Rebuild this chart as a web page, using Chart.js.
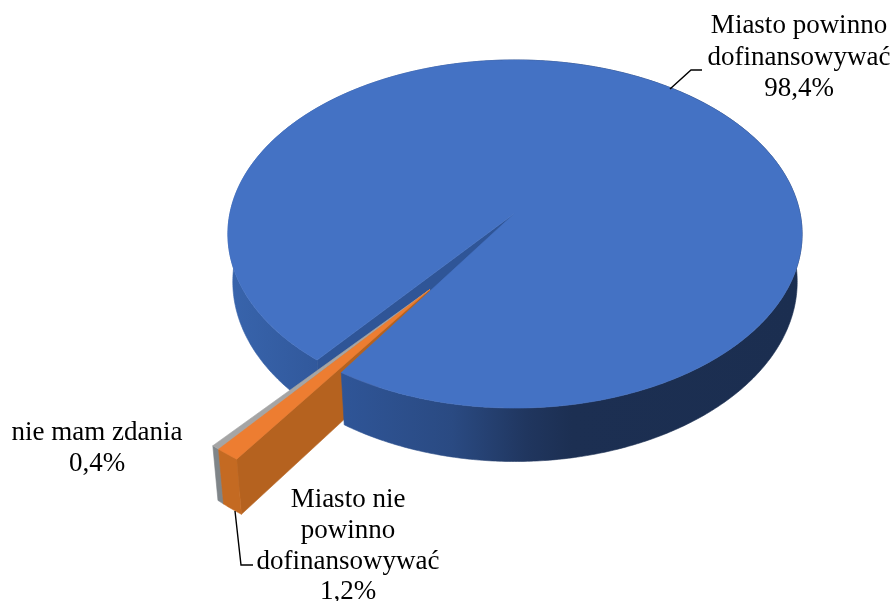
<!DOCTYPE html>
<html lang="pl">
<head>
<meta charset="utf-8">
<title>Wykres</title>
<style>html,body{margin:0;padding:0;background:#fff}canvas{display:block}</style>
<script src="https://cdn.jsdelivr.net/npm/chart.js@4/dist/chart.umd.min.js"></script>
</head>
<body>
<canvas id="c" width="891" height="601"></canvas>
<script>
const categories = ['Miasto powinno dofinansowywać', 'Miasto nie powinno dofinansowywać', 'nie mam zdania'];
const shares = [98.4, 1.2, 0.4];
const valueLabels = ['98,4%', '1,2%', '0,4%'];

const topColors = ['#4472c4', '#ed7d31', '#a5a5a5'];
const sideColors = ['#2f5597', '#b5621f', '#7f8589'];

const labelBlocks = [
  {lines: ['Miasto powinno', 'dofinansowywać', valueLabels[0]], x: 799, y: [33, 65, 96]},
  {lines: ['Miasto nie', 'powinno', 'dofinansowywać', valueLabels[1]], x: 348, y: [507, 538, 569, 599]},
  {lines: [categories[2], valueLabels[2]], x: 97, y: [440, 471]}
];
const leaders = [
  [[670, 89], [691, 70], [702, 70]],
  [[235, 511], [241, 565], [253, 565]]
];

const pie3d = {
  id: 'pie3d',
  beforeDatasetsDraw(chart, args, o) {
    const ctx = chart.ctx;
    const arcs = chart.getDatasetMeta(0).data;
    const cx = arcs[0].x, cy = arcs[0].y, R = arcs[0].outerRadius;
    const P = (u, v, low) => {
      const den = 1 + o.persp * v;
      let X = cx + R * u / den, Y = cy + R * o.tilt * v / den;
      if (low) { X = cx + (X - cx) * o.lowScale; Y += o.depth / den; }
      return [X, Y];
    };
    const rim = (a, c, low) => P(c.x + c.s * Math.cos(a), c.y + c.s * Math.sin(a), low);
    const range = (a0, a1) => {
      const out = [], n = Math.max(2, Math.ceil(Math.abs(a1 - a0) / 0.01));
      for (let i = 0; i <= n; i++) out.push(a0 + (a1 - a0) * i / n);
      return out;
    };
    const fillPoly = (pts, fill) => {
      ctx.beginPath();
      pts.forEach((p, i) => i ? ctx.lineTo(p[0], p[1]) : ctx.moveTo(p[0], p[1]));
      ctx.closePath();
      ctx.fillStyle = fill;
      ctx.fill();
      ctx.strokeStyle = fill;
      ctx.lineWidth = 0.6;
      ctx.stroke();
    };
    const wall = (a0, a1, c, fill) => {
      const as = range(a0, a1);
      fillPoly(as.map(a => rim(a, c, false)).concat(as.slice().reverse().map(a => rim(a, c, true))), fill);
    };
    const sideFace = (a, c, ap, fill) => fillPoly([P(ap.x, ap.y, false), rim(a, c, false), rim(a, c, true), P(ap.x, ap.y, true)], fill);
    const top = (a0, a1, c, ap, fill) => fillPoly([P(ap.x, ap.y, false)].concat(range(a0, a1).map(a => rim(a, c, false))), fill);

    const g = ctx.createLinearGradient(cx - R, 0, cx + R, 0);
    o.wallStops.forEach(s => g.addColorStop(s[0], s[1]));

    const blue = arcs[0], orange = arcs[1], grey = arcs[2];
    const span = grey.endAngle - orange.startAngle;
    const at = bias => {
      const phi = orange.startAngle + bias * span;
      return {x: o.explode * Math.cos(phi), y: o.explode * Math.sin(phi), s: o.explodedRim};
    };
    const home = {x: 0, y: 0, s: 1};
    const outer = at(o.rimBias), apex = at(o.apexBias);
    const split = blue.startAngle + 3;

    wall(blue.startAngle, split, home, g);
    sideFace(blue.startAngle, home, home, sideColors[0]);

    wall(grey.startAngle, grey.endAngle, outer, sideColors[2]);
    sideFace(grey.startAngle, outer, apex, sideColors[2]);
    sideFace(orange.startAngle, outer, apex, sideColors[1]);
    wall(orange.startAngle, orange.endAngle, outer, o.orangeWall);

    wall(split, blue.endAngle, home, g);
    top(blue.startAngle, blue.endAngle, home, home, topColors[0]);

    top(grey.startAngle, grey.endAngle, outer, apex, topColors[2]);
    top(orange.startAngle, orange.endAngle, outer, apex, topColors[1]);
    return false;
  },
  afterDraw(chart) {
    const ctx = chart.ctx;
    ctx.save();
    ctx.strokeStyle = '#000';
    ctx.lineWidth = 1.4;
    leaders.forEach(l => {
      ctx.beginPath();
      l.forEach((p, i) => i ? ctx.lineTo(p[0], p[1]) : ctx.moveTo(p[0], p[1]));
      ctx.stroke();
    });
    ctx.fillStyle = '#000';
    ctx.font = '27px "Liberation Serif"';
    ctx.textAlign = 'center';
    ctx.textBaseline = 'alphabetic';
    labelBlocks.forEach(b => b.lines.forEach((t, i) => ctx.fillText(t, b.x, b.y[i])));
    ctx.restore();
  }
};

new Chart(document.getElementById('c'), {
  type: 'pie',
  data: {
    labels: categories,
    datasets: [{data: shares, backgroundColor: topColors, borderWidth: 0, radius: 285}]
  },
  options: {
    responsive: false,
    animation: false,
    rotation: 219,
    layout: {padding: {left: 139, top: 0, right: 0, bottom: 175}},
    plugins: {
      legend: {display: false},
      tooltip: {enabled: false},
      pie3d: {
        tilt: 0.6018,
        persp: -0.1207,
        depth: 47,
        lowScale: 0.983,
        explode: 0.51,
        explodedRim: 0.97,
        rimBias: 0.5,
        apexBias: 0.1,
        orangeWall: '#c46a22',
        wallStops: [[0, '#3864ac'], [0.2, '#2f5597'], [0.39, '#2a4a82'], [0.52, '#20365f'], [0.6, '#1c2f52'], [1, '#1b2e50']]
      }
    }
  },
  plugins: [pie3d]
});
</script>
</body>
</html>
